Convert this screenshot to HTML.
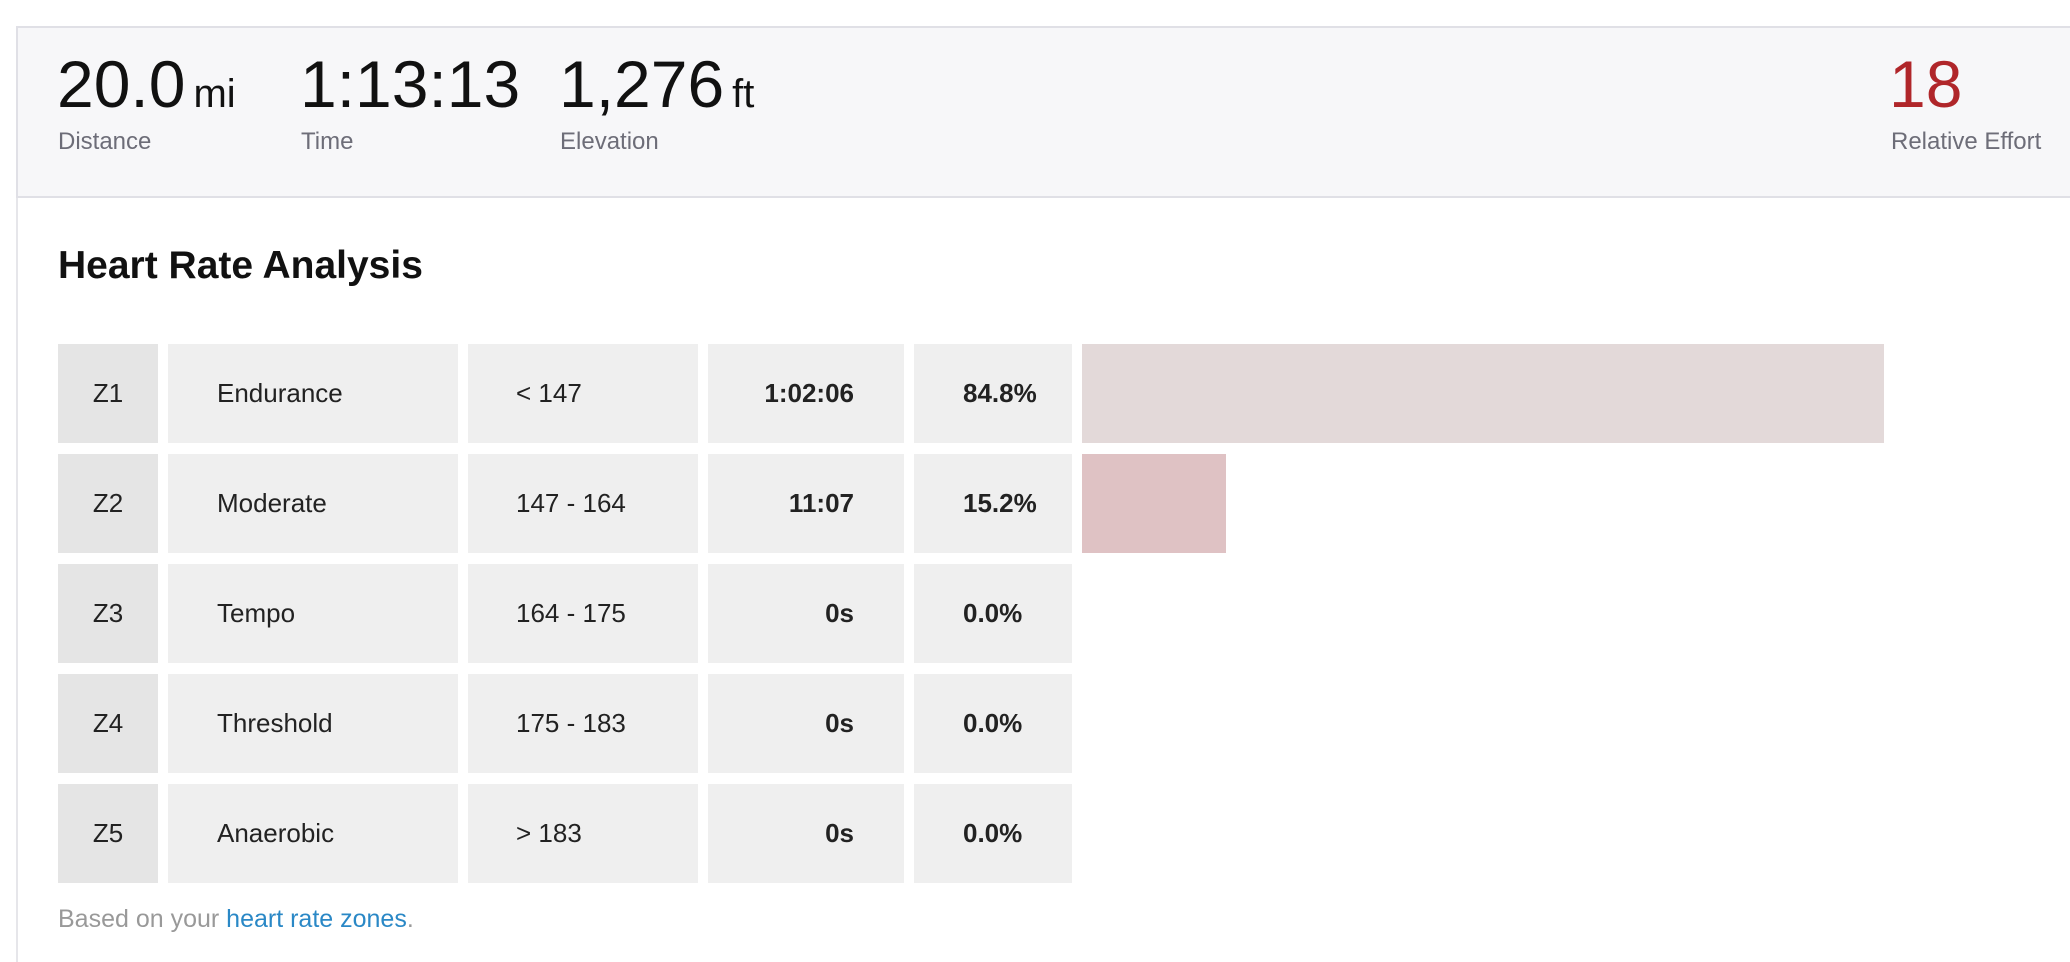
<!DOCTYPE html>
<html><head><meta charset="utf-8"><style>
*{margin:0;padding:0;box-sizing:border-box}
body{width:2070px;height:962px;background:#fff;font-family:"Liberation Sans",sans-serif;position:relative;overflow:hidden}
.abs{position:absolute;white-space:nowrap}
.hdr{position:absolute;left:16px;top:26px;width:2054px;height:172px;background:#f7f7f9;border-top:2px solid #e0e0e6;border-bottom:2px solid #e0e0e6;border-left:2px solid #e0e0e6}
.lb{position:absolute;left:16px;top:198px;width:2px;height:764px;background:#e6e6ea}
.big{font-size:66px;color:#111;line-height:1}
.unit{font-size:40px;margin-left:8px}
.lab{font-size:24px;color:#6d6d78}
.cell{position:absolute;height:99px;background:#efefef;font-size:26px;color:#222;line-height:99px}
.z{background:#e5e5e5;text-align:center}
.b{font-weight:bold}
</style></head><body>
<div class="hdr"></div>
<div class="lb"></div>
<div class="abs big" style="left:57px;top:51px">20.0<span class="unit">mi</span></div>
<div class="abs lab" style="left:58px;top:128px">Distance</div>
<div class="abs big" style="left:300px;top:51px">1:13:13</div>
<div class="abs lab" style="left:301px;top:128px">Time</div>
<div class="abs big" style="left:559px;top:51px">1,276<span class="unit">ft</span></div>
<div class="abs lab" style="left:560px;top:128px">Elevation</div>
<div class="abs big" style="left:1889px;top:51px;color:#b0262a">18</div>
<div class="abs lab" style="left:1891px;top:128px">Relative Effort</div>
<div class="abs" style="left:58px;top:244px;font-size:39px;font-weight:bold;color:#111">Heart Rate Analysis</div>

<div class="cell z" style="left:58px;top:344px;width:100px">Z1</div>
<div class="cell" style="left:168px;top:344px;width:290px;padding-left:49px">Endurance</div>
<div class="cell" style="left:468px;top:344px;width:230px;padding-left:48px">&lt; 147</div>
<div class="cell b" style="left:708px;top:344px;width:196px;text-align:right;padding-right:50px">1:02:06</div>
<div class="cell b" style="left:914px;top:344px;width:158px;padding-left:49px">84.8%</div>
<div class="abs" style="left:1082px;top:344px;width:802px;height:99px;background:#e3d9d9"></div>

<div class="cell z" style="left:58px;top:454px;width:100px">Z2</div>
<div class="cell" style="left:168px;top:454px;width:290px;padding-left:49px">Moderate</div>
<div class="cell" style="left:468px;top:454px;width:230px;padding-left:48px">147 - 164</div>
<div class="cell b" style="left:708px;top:454px;width:196px;text-align:right;padding-right:50px">11:07</div>
<div class="cell b" style="left:914px;top:454px;width:158px;padding-left:49px">15.2%</div>
<div class="abs" style="left:1082px;top:454px;width:144px;height:99px;background:#dfc2c4"></div>

<div class="cell z" style="left:58px;top:564px;width:100px">Z3</div>
<div class="cell" style="left:168px;top:564px;width:290px;padding-left:49px">Tempo</div>
<div class="cell" style="left:468px;top:564px;width:230px;padding-left:48px">164 - 175</div>
<div class="cell b" style="left:708px;top:564px;width:196px;text-align:right;padding-right:50px">0s</div>
<div class="cell b" style="left:914px;top:564px;width:158px;padding-left:49px">0.0%</div>

<div class="cell z" style="left:58px;top:674px;width:100px">Z4</div>
<div class="cell" style="left:168px;top:674px;width:290px;padding-left:49px">Threshold</div>
<div class="cell" style="left:468px;top:674px;width:230px;padding-left:48px">175 - 183</div>
<div class="cell b" style="left:708px;top:674px;width:196px;text-align:right;padding-right:50px">0s</div>
<div class="cell b" style="left:914px;top:674px;width:158px;padding-left:49px">0.0%</div>

<div class="cell z" style="left:58px;top:784px;width:100px">Z5</div>
<div class="cell" style="left:168px;top:784px;width:290px;padding-left:49px">Anaerobic</div>
<div class="cell" style="left:468px;top:784px;width:230px;padding-left:48px">&gt; 183</div>
<div class="cell b" style="left:708px;top:784px;width:196px;text-align:right;padding-right:50px">0s</div>
<div class="cell b" style="left:914px;top:784px;width:158px;padding-left:49px">0.0%</div>

<div class="abs" style="left:58px;top:905px;font-size:25px;color:#999">Based on your <span style="color:#2a88c6">heart rate zones</span>.</div>
</body></html>
